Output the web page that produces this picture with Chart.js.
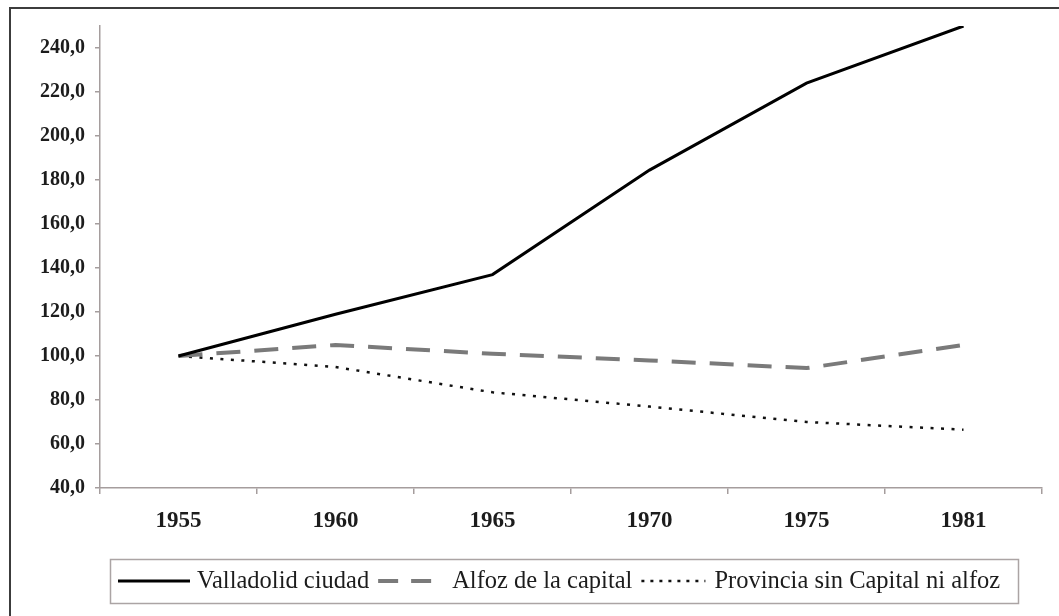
<!DOCTYPE html>
<html>
<head>
<meta charset="utf-8">
<script src="https://cdn.jsdelivr.net/npm/chart.js@4"></script>
<style>
body { margin: 0; background: #fff; }
#wrap { position: relative; width: 1059px; height: 616px; }
</style>
</head>
<body>
<div id="wrap"><canvas id="chart"></canvas></div>
<script>
var years = ['1955', '1960', '1965', '1970', '1975', '1981'];
var valladolid = [100, 119, 137, 184.5, 224, 250];
var alfoz = [100, 105, 101, 98, 94.5, 105];
var provincia = [100, 95, 83.5, 77, 70, 66.5];
var seriesNames = ['Valladolid ciudad', 'Alfoz de la capital', 'Provincia sin Capital ni alfoz'];

// frame round the picture (only top and left are visible)
var frame = {
	id: 'frame',
	beforeDraw: function(chart) {
		var ctx = chart.ctx;
		ctx.save();
		ctx.fillStyle = '#3c3c3c';
		ctx.fillRect(9, 7, 1059, 2);
		ctx.fillRect(9, 7, 2, 616);
		ctx.restore();
	}
};

// boxed legend under the axis, drawn from the datasets
var legendBox = {
	id: 'legendBox',
	afterDraw: function(chart) {
		var ctx = chart.ctx;
		var lineLen = [72, 60, 64];
		var gapAfterLine = [7, 14, 9];
		ctx.save();
		ctx.strokeStyle = '#aba4a4';
		ctx.lineWidth = 1.5;
		ctx.strokeRect(110.5, 559.5, 908, 44);
		ctx.font = '24.5px "Liberation Serif", "Times New Roman", serif';
		ctx.textBaseline = 'middle';
		var x = 118, y = 581;
		chart.data.datasets.forEach(function(ds, i) {
			ctx.strokeStyle = ds.borderColor;
			ctx.lineWidth = ds.borderWidth;
			ctx.setLineDash(ds.legendDash || []);
			ctx.beginPath();
			ctx.moveTo(x, y);
			ctx.lineTo(x + lineLen[i], y);
			ctx.stroke();
			x += lineLen[i] + gapAfterLine[i];
			ctx.fillStyle = '#1c1c1c';
			ctx.fillText(ds.label, x, y + 1);
			x += ctx.measureText(ds.label).width + 9;
		});
		ctx.restore();
	}
};

window.onload = function() {
	var axisColor = '#a59d9d';
	new Chart(document.getElementById('chart'), {
		type: 'line',
		data: {
			labels: years,
			datasets: [
				{ label: seriesNames[0], data: valladolid, borderColor: '#000', borderWidth: 3, pointRadius: 0, tension: 0 },
				{ label: seriesNames[1], data: alfoz, borderColor: '#7a7a7a', borderWidth: 4, borderDash: [24, 14], legendDash: [20, 13], pointRadius: 0, tension: 0 },
				{ label: seriesNames[2], data: provincia, borderColor: '#111', borderWidth: 2.5, borderDash: [3, 7.5], legendDash: [3, 6], pointRadius: 0, tension: 0 }
			]
		},
		options: {
			responsive: true,
			maintainAspectRatio: false,
			animation: false,
			layout: { padding: { left: 0, top: 26, right: 17, bottom: 68 } },
			plugins: {
				legend: { display: false },
				tooltip: { enabled: false }
			},
			scales: {
				x: {
					offset: true,
					grid: { offset: true, drawOnChartArea: false, drawTicks: true, tickLength: 6, color: axisColor, lineWidth: 1.5 },
					border: { color: axisColor, width: 1.5 },
					ticks: {
						color: '#1c1c1c',
						padding: 13,
						maxRotation: 0,
						font: { family: '"Liberation Serif", "Times New Roman", serif', size: 23, weight: 'bold' }
					},
					afterFit: function(scale) { scale.height = 60; }
				},
				y: {
					min: 40,
					max: 250,
					grid: { drawOnChartArea: false, drawTicks: true, tickLength: 5, color: axisColor, lineWidth: 1.5 },
					border: { color: axisColor, width: 1.5 },
					ticks: {
						stepSize: 20,
						includeBounds: false,
						color: '#1c1c1c',
						padding: 10,
						font: { family: '"Liberation Serif", "Times New Roman", serif', size: 20, weight: 'bold' },
						callback: function(v) { return v.toFixed(1).replace('.', ','); }
					},
					afterFit: function(scale) { scale.width = 100; }
				}
			}
		},
		plugins: [frame, legendBox]
	});
};
</script>
</body>
</html>
